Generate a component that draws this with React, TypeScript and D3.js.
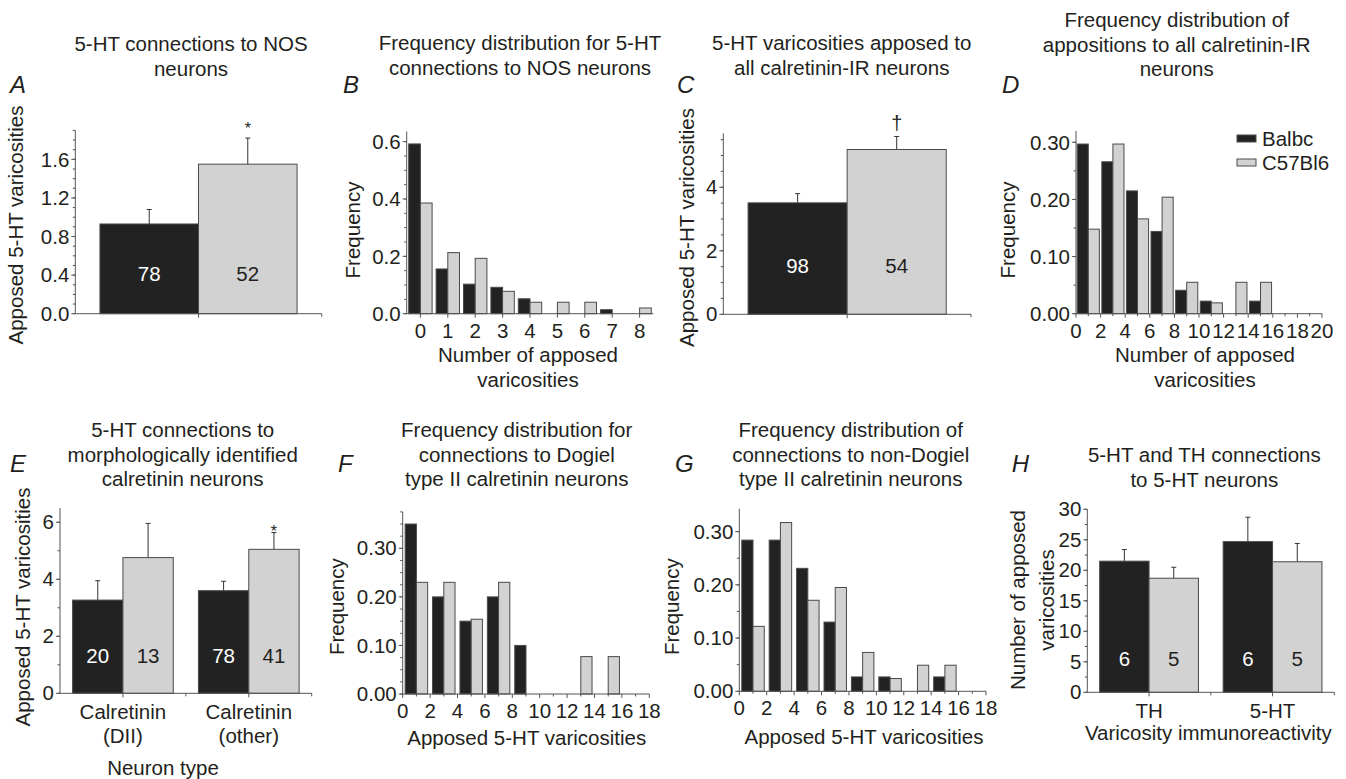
import * as d3 from "d3";

const FONT = "'Liberation Sans', Arial, Helvetica, sans-serif";
const INK = "#231f20";
const DARK = "#222222";
const LIGHT = "#d2d2d2";
const EDGE = "#4a4a4a";
const AXIS = "#555555";
const FS = 20.5;

const strains = ["Balbc", "C57Bl6"];

// A: 5-HT connections to NOS neurons
const nosMean = [0.93, 1.55];
const nosSem = [0.15, 0.27];
const nosN = [78, 52];

// B: frequency distribution, NOS neurons
const nosBins = ["0", "1", "2", "3", "4", "5", "6", "7", "8"];
const nosFreqBalbc = [0.592, 0.156, 0.103, 0.092, 0.052, 0, 0, 0.014, 0];
const nosFreqC57 = [0.386, 0.213, 0.193, 0.078, 0.04, 0.04, 0.04, 0, 0.02];

// C: all calretinin-IR neurons
const calMean = [3.51, 5.19];
const calSem = [0.29, 0.41];
const calN = [98, 54];

// D: frequency distribution, calretinin-IR (bins of 2)
const calBinStarts = [0, 2, 4, 6, 8, 10, 12, 14, 16, 18];
const calFreqBalbc = [0.297, 0.266, 0.215, 0.144, 0.041, 0.022, 0, 0.022, 0, 0];
const calFreqC57 = [0.148, 0.297, 0.166, 0.204, 0.055, 0.019, 0.055, 0.055, 0, 0];

// E: morphologically identified calretinin neurons
const morphTypes = [["Calretinin", "(DII)"], ["Calretinin", "(other)"]];
const morphMeanBalbc = [3.27, 3.6];
const morphSemBalbc = [0.68, 0.33];
const morphMeanC57 = [4.76, 5.05];
const morphSemC57 = [1.2, 0.59];
const morphNBalbc = [20, 78];
const morphNC57 = [13, 41];

// F / G: Dogiel type II and non-Dogiel (bins of 2, 0..16)
const dogielBinStarts = [0, 2, 4, 6, 8, 10, 12, 14, 16];
const dogielBalbc = [0.35, 0.2, 0.15, 0.2, 0.1, 0, 0, 0, 0];
const dogielC57 = [0.23, 0.23, 0.154, 0.23, 0, 0, 0.077, 0.077, 0];
const nonDogielBalbc = [0.284, 0.284, 0.231, 0.13, 0.027, 0.027, 0, 0.027, 0];
const nonDogielC57 = [0.122, 0.317, 0.171, 0.195, 0.073, 0.024, 0.049, 0.049, 0];

// H: 5-HT and TH connections to 5-HT neurons
const varicosityTypes = [["TH"], ["5-HT"]];
const vMeanBalbc = [21.5, 24.7];
const vSemBalbc = [1.9, 4.0];
const vMeanC57 = [18.7, 21.4];
const vSemC57 = [1.8, 3.0];
const vNBalbc = [6, 6];
const vNC57 = [5, 5];

const fills = [DARK, LIGHT];
const numFill = ["#ffffff", INK];

function Lines({ x, y, lines, gap = 24.5, size = FS, rotate = false }) {
  return (
    <g transform={rotate ? `translate(${x},${y}) rotate(-90)` : `translate(${x},${y})`}>
      {lines.map((l, i) => (
        <text key={i} x={0} y={i * gap} dy="0.35em" textAnchor="middle" fontSize={size} fill={INK}>
          {l}
        </text>
      ))}
    </g>
  );
}

function Letter({ x, y, ch }) {
  return (
    <text x={x} y={y} fontSize={24} fontStyle="italic" fill={INK}>
      {ch}
    </text>
  );
}

function YAxis({ y, x, major, minorStep, fmt }) {
  const [d0, d1] = y.domain();
  const minor = d3.range(d0, d1 + 1e-9, minorStep);
  return (
    <g>
      <line x1={x} x2={x} y1={y(d0)} y2={y(d1)} stroke={AXIS} strokeWidth={1} />
      {minor.map((v, i) => (
        <line key={"m" + i} x1={x - 2.5} x2={x} y1={y(v)} y2={y(v)} stroke={AXIS} strokeWidth={1} />
      ))}
      {major.map((v, i) => (
        <g key={"M" + i}>
          <line x1={x - 4} x2={x} y1={y(v)} y2={y(v)} stroke={AXIS} strokeWidth={1} />
          <text x={x - 6} y={y(v)} dy="0.35em" textAnchor="end" fontSize={FS} fill={INK}>
            {fmt(v)}
          </text>
        </g>
      ))}
    </g>
  );
}

function BarPanel({ groups, means, sems, ns, xRange, y, major, minorStep, fmt, numLift, marks = [] }) {
  const x0 = d3
    .scaleBand()
    .domain(groups.map((_, i) => String(i)))
    .range(xRange)
    .paddingInner(0.2)
    .paddingOuter(0.1);
  const x1 = d3.scaleBand().domain(strains).range([0, x0.bandwidth()]);
  const base = y(0);
  const step = x0.step();
  const bounds = d3.range(1, groups.length + 1).map((k) => xRange[0] + k * step);
  return (
    <g>
      {groups.map((g, gi) =>
        strains.map((s, si) => {
          const bx = x0(String(gi)) + x1(s);
          const m = means[si][gi];
          const top = y(m + sems[si][gi]);
          const cx = bx + x1.bandwidth() / 2;
          return (
            <g key={gi + s}>
              <line x1={cx} x2={cx} y1={y(m)} y2={top} stroke="#333" strokeWidth={1} />
              <line x1={cx - 2.5} x2={cx + 2.5} y1={top} y2={top} stroke="#333" strokeWidth={1} />
              <rect x={bx} y={y(m)} width={x1.bandwidth()} height={base - y(m)} fill={fills[si]} stroke={EDGE} strokeWidth={1} />
              <text x={cx} y={base - numLift} dy="0.35em" textAnchor="middle" fontSize={FS} fill={numFill[si]}>
                {ns[si][gi]}
              </text>
            </g>
          );
        })
      )}
      {marks.map((mk, i) => {
        const bx = x0(String(mk.group)) + x1(strains[mk.series]) + x1.bandwidth() / 2;
        const top = y(means[mk.series][mk.group] + sems[mk.series][mk.group]);
        return (
          <text key={i} x={bx} y={top + mk.dy} textAnchor="middle" fontSize={mk.size} fill={INK}>
            {mk.text}
          </text>
        );
      })}
      <line x1={xRange[0]} x2={xRange[1]} y1={base} y2={base} stroke={AXIS} strokeWidth={1} />
      {groups.map((g, gi) => {
        const c = x0(String(gi)) + x0.bandwidth() / 2;
        return (
          <g key={"t" + gi}>
            <line x1={c} x2={c} y1={base} y2={base + 4} stroke={AXIS} strokeWidth={1} />
            {g.map((l, li) => (
              <text key={li} x={c} y={base + 19 + li * 24} dy="0.35em" textAnchor="middle" fontSize={FS} fill={INK}>
                {l}
              </text>
            ))}
          </g>
        );
      })}
      {bounds.map((b, i) => (
        <line key={"b" + i} x1={b} x2={b} y1={base} y2={base + 3} stroke={AXIS} strokeWidth={1} />
      ))}
      <YAxis y={y} x={xRange[0]} major={major} minorStep={minorStep} fmt={fmt} />
    </g>
  );
}

function CatFreqPanel({ cats, series, xRange, y, major, minorStep, fmt }) {
  const x0 = d3.scaleBand().domain(cats).range(xRange).paddingInner(0.146).paddingOuter(0.073);
  const x1 = d3.scaleBand().domain(strains).range([0, x0.bandwidth()]);
  const base = y(0);
  return (
    <g>
      {cats.map((c, ci) =>
        strains.map((s, si) =>
          series[si][ci] > 0 ? (
            <rect
              key={c + s}
              x={x0(c) + x1(s)}
              y={y(series[si][ci])}
              width={x1.bandwidth()}
              height={base - y(series[si][ci])}
              fill={fills[si]}
              stroke={EDGE}
              strokeWidth={1}
            />
          ) : null
        )
      )}
      <line x1={xRange[0]} x2={xRange[1]} y1={base} y2={base} stroke={AXIS} strokeWidth={1} />
      {cats.map((c) => {
        const cx = x0(c) + x0.bandwidth() / 2;
        return (
          <g key={"t" + c}>
            <line x1={cx} x2={cx} y1={base} y2={base + 4} stroke={AXIS} strokeWidth={1} />
            <text x={cx} y={base + 17} dy="0.35em" textAnchor="middle" fontSize={FS} fill={INK}>
              {c}
            </text>
          </g>
        );
      })}
      <YAxis y={y} x={xRange[0]} major={major} minorStep={minorStep} fmt={fmt} />
    </g>
  );
}

function HistPanel({ starts, series, x, y, major, minorStep, fmt, pad = 0.15 }) {
  const base = y(0);
  const [d0, d1] = x.domain();
  const xr = x.range();
  return (
    <g>
      {starts.map((b, bi) =>
        strains.map((s, si) => {
          const v = series[si][bi];
          if (!(v > 0)) return null;
          const l = si === 0 ? x(b + pad) : x(b + 1);
          const r = si === 0 ? x(b + 1) : x(b + 2 - pad);
          return (
            <rect key={b + s} x={l} y={y(v)} width={r - l} height={base - y(v)} fill={fills[si]} stroke={EDGE} strokeWidth={1} />
          );
        })
      )}
      <line x1={xr[0]} x2={xr[1]} y1={base} y2={base} stroke={AXIS} strokeWidth={1} />
      {d3.range(d0, d1 + 1).map((v) => (
        <line key={"m" + v} x1={x(v)} x2={x(v)} y1={base} y2={base + (v % 2 === 0 ? 4 : 2.5)} stroke={AXIS} strokeWidth={1} />
      ))}
      {d3.range(d0, d1 + 1, 2).map((v) => (
        <text key={"l" + v} x={x(v)} y={base + 17} dy="0.35em" textAnchor="middle" fontSize={FS} fill={INK}>
          {v}
        </text>
      ))}
      <YAxis y={y} x={xr[0]} major={major} minorStep={minorStep} fmt={fmt} />
    </g>
  );
}

export default function App() {
  const f1 = (v) => v.toFixed(1);
  const f2 = (v) => v.toFixed(2);
  const f0 = (v) => String(v);

  const yA = d3.scaleLinear().domain([0, 1.9]).range([313.7, 130.4]);
  const yB = d3.scaleLinear().domain([0, 0.635]).range([313.7, 131.6]);
  const yC = d3.scaleLinear().domain([0, 5.7]).range([314.3, 133.3]);
  const yD = d3.scaleLinear().domain([0, 0.32]).range([313.7, 130.9]);
  const xD = d3.scaleLinear().domain([0, 20]).range([1076, 1322]);
  const yE = d3.scaleLinear().domain([0, 6.5]).range([693.3, 508]);
  const yF = d3.scaleLinear().domain([0, 0.375]).range([694, 511.9]);
  const xF = d3.scaleLinear().domain([0, 18]).range([402.7, 649.3]);
  const yG = d3.scaleLinear().domain([0, 0.343]).range([691.3, 508.7]);
  const xG = d3.scaleLinear().domain([0, 18]).range([739.3, 986]);
  const yH = d3.scaleLinear().domain([0, 30]).range([692.3, 509.3]);

  return (
    <svg
      width={1346}
      height={779}
      fontFamily={FONT}
      style={{ position: "absolute", left: 0, top: 0, background: "#ffffff" }}
    >
      {/* A */}
      <Letter x={10} y={93} ch="A" />
      <Lines x={191} y={44.3} lines={["5-HT connections to NOS", "neurons"]} />
      <Lines x={16} y={225} lines={["Apposed 5-HT varicosities"]} rotate />
      <BarPanel
        groups={[[]]}
        means={[[nosMean[0]], [nosMean[1]]]}
        sems={[[nosSem[0]], [nosSem[1]]]}
        ns={[[nosN[0]], [nosN[1]]]}
        xRange={[75.3, 321.7]}
        y={yA}
        major={[0, 0.4, 0.8, 1.2, 1.6]}
        minorStep={0.1}
        fmt={f1}
        numLift={40}
        marks={[{ group: 0, series: 1, text: "*", dy: -4, size: 16 }]}
      />

      {/* B */}
      <Letter x={343} y={93} ch="B" />
      <Lines x={520} y={43.3} lines={["Frequency distribution for 5-HT", "connections to NOS neurons"]} />
      <Lines x={353} y={230} lines={["Frequency"]} rotate />
      <CatFreqPanel
        cats={nosBins}
        series={[nosFreqBalbc, nosFreqC57]}
        xRange={[406.7, 653.3]}
        y={yB}
        major={[0, 0.2, 0.4, 0.6]}
        minorStep={0.05}
        fmt={f1}
      />
      <Lines x={528} y={355} lines={["Number of apposed", "varicosities"]} />

      {/* C */}
      <Letter x={677} y={93} ch="C" />
      <Lines x={841.7} y={43.3} lines={["5-HT varicosities apposed to", "all calretinin-IR neurons"]} />
      <Lines x={687} y={227.5} lines={["Apposed 5-HT varicosities"]} rotate />
      <BarPanel
        groups={[[]]}
        means={[[calMean[0]], [calMean[1]]]}
        sems={[[calSem[0]], [calSem[1]]]}
        ns={[[calN[0]], [calN[1]]]}
        xRange={[723.3, 971]}
        y={yC}
        major={[0, 2, 4]}
        minorStep={0.5}
        fmt={f0}
        numLift={48}
        marks={[{ group: 0, series: 1, text: "\u2020", dy: -6, size: 20 }]}
      />

      {/* D */}
      <Letter x={1002} y={93} ch="D" />
      <Lines x={1176.7} y={20} lines={["Frequency distribution of", "appositions to all calretinin-IR", "neurons"]} />
      <Lines x={1008} y={230} lines={["Frequency"]} rotate />
      <HistPanel
        starts={calBinStarts}
        series={[calFreqBalbc, calFreqC57]}
        x={xD}
        y={yD}
        major={[0, 0.1, 0.2, 0.3]}
        minorStep={0.05}
        fmt={f2}
        pad={0.1}
      />
      <Lines x={1205} y={355} lines={["Number of apposed", "varicosities"]} />
      {strains.map((s, i) => (
        <g key={s}>
          <rect x={1237} y={135 + i * 24} width={19} height={7} fill={fills[i]} stroke={EDGE} strokeWidth={1} />
          <text x={1262} y={138.5 + i * 24} dy="0.35em" fontSize={FS} fill={INK}>
            {s}
          </text>
        </g>
      ))}

      {/* E */}
      <Letter x={10} y={471.7} ch="E" />
      <Lines x={182.7} y={430} lines={["5-HT connections to", "morphologically identified", "calretinin neurons"]} />
      <Lines x={23.3} y={607} lines={["Apposed 5-HT varicosities"]} rotate />
      <BarPanel
        groups={morphTypes}
        means={[morphMeanBalbc, morphMeanC57]}
        sems={[morphSemBalbc, morphSemC57]}
        ns={[morphNBalbc, morphNC57]}
        xRange={[60, 311.7]}
        y={yE}
        major={[0, 2, 4, 6]}
        minorStep={1}
        fmt={f0}
        numLift={37.6}
        marks={[{ group: 1, series: 1, text: "*", dy: 4, size: 16 }]}
      />
      <Lines x={163} y={768.3} lines={["Neuron type"]} />

      {/* F */}
      <Letter x={338} y={471.7} ch="F" />
      <Lines x={516.7} y={430} lines={["Frequency distribution for", "connections to Dogiel", "type II calretinin neurons"]} />
      <Lines x={337} y={606.7} lines={["Frequency"]} rotate />
      <HistPanel
        starts={dogielBinStarts}
        series={[dogielBalbc, dogielC57]}
        x={xF}
        y={yF}
        major={[0, 0.1, 0.2, 0.3]}
        minorStep={0.025}
        fmt={f2}
        pad={0.18}
      />
      <Lines x={526.7} y={738.3} lines={["Apposed 5-HT varicosities"]} />

      {/* G */}
      <Letter x={675} y={471.7} ch="G" />
      <Lines x={850.7} y={430} lines={["Frequency distribution of", "connections to non-Dogiel", "type II calretinin neurons"]} />
      <Lines x={671.7} y={606.7} lines={["Frequency"]} rotate />
      <HistPanel
        starts={dogielBinStarts}
        series={[nonDogielBalbc, nonDogielC57]}
        x={xG}
        y={yG}
        major={[0, 0.1, 0.2, 0.3]}
        minorStep={0.05}
        fmt={f2}
        pad={0.18}
      />
      <Lines x={864} y={736.7} lines={["Apposed 5-HT varicosities"]} />

      {/* H */}
      <Letter x={1011.7} y={471.7} ch="H" />
      <Lines x={1204.3} y={455} lines={["5-HT and TH connections", "to 5-HT neurons"]} />
      <g transform="translate(1018.3,600) rotate(-90)">
        <text x={0} y={0} dy="0.35em" textAnchor="middle" fontSize={FS} fill={INK}>
          Number of apposed
        </text>
      </g>
      <g transform="translate(1046.7,600) rotate(-90)">
        <text x={0} y={0} dy="0.35em" textAnchor="middle" fontSize={FS} fill={INK}>
          varicosities
        </text>
      </g>
      <BarPanel
        groups={varicosityTypes}
        means={[vMeanBalbc, vMeanC57]}
        sems={[vSemBalbc, vSemC57]}
        ns={[vNBalbc, vNC57]}
        xRange={[1087.3, 1334.3]}
        y={yH}
        major={[0, 5, 10, 15, 20, 25, 30]}
        minorStep={2.5}
        fmt={f0}
        numLift={33}
      />
      <Lines x={1208.3} y={733.3} lines={["Varicosity immunoreactivity"]} />
    </svg>
  );
}
